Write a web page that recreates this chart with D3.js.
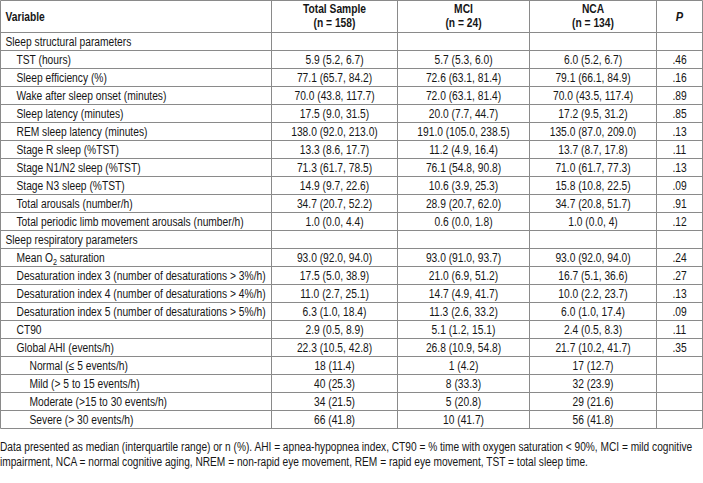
<!DOCTYPE html>
<html><head><meta charset="utf-8">
<script src="https://cdn.jsdelivr.net/npm/d3@7/dist/d3.min.js"></script>
<style>
html,body{margin:0;padding:0;background:#fff;}
svg{display:block;}
text{font-family:"Liberation Sans",Arial,sans-serif;fill:#161616;}
</style></head>
<body><svg id="chart" width="703" height="483"></svg>
<script>
// ---- data ----
const headers = ["Variable", "Total Sample|(n = 158)", "MCI|(n = 24)", "NCA|(n = 134)", "P"];
const variables = [
  "Sleep structural parameters","TST (hours)","Sleep efficiency (%)","Wake after sleep onset (minutes)",
  "Sleep latency (minutes)","REM sleep latency (minutes)","Stage R sleep (%TST)","Stage N1/N2 sleep (%TST)",
  "Stage N3 sleep (%TST)","Total arousals (number/h)","Total periodic limb movement arousals (number/h)",
  "Sleep respiratory parameters","Mean O_2 saturation","Desaturation index 3 (number of desaturations > 3%/h)",
  "Desaturation index 4 (number of desaturations > 4%/h)","Desaturation index 5 (number of desaturations > 5%/h)",
  "CT90","Global AHI (events/h)","Normal (≤ 5 events/h)","Mild (> 5 to 15 events/h)",
  "Moderate (>15 to 30 events/h)","Severe (> 30 events/h)"
];
const levels = [0,1,1,1,1,1,1,1,1,1,1,0,1,1,1,1,1,1,2,2,2,2];
const totalSample = ["","5.9 (5.2, 6.7)","77.1 (65.7, 84.2)","70.0 (43.8, 117.7)","17.5 (9.0, 31.5)",
  "138.0 (92.0, 213.0)","13.3 (8.6, 17.7)","71.3 (61.7, 78.5)","14.9 (9.7, 22.6)","34.7 (20.7, 52.2)",
  "1.0 (0.0, 4.4)","","93.0 (92.0, 94.0)","17.5 (5.0, 38.9)","11.0 (2.7, 25.1)","6.3 (1.0, 18.4)",
  "2.9 (0.5, 8.9)","22.3 (10.5, 42.8)","18 (11.4)","40 (25.3)","34 (21.5)","66 (41.8)"];
const mci = ["","5.7 (5.3, 6.0)","72.6 (63.1, 81.4)","72.0 (63.1, 81.4)","20.0 (7.7, 44.7)",
  "191.0 (105.0, 238.5)","11.2 (4.9, 16.4)","76.1 (54.8, 90.8)","10.6 (3.9, 25.3)","28.9 (20.7, 62.0)",
  "0.6 (0.0, 1.8)","","93.0 (91.0, 93.7)","21.0 (6.9, 51.2)","14.7 (4.9, 41.7)","11.3 (2.6, 33.2)",
  "5.1 (1.2, 15.1)","26.8 (10.9, 54.8)","1 (4.2)","8 (33.3)","5 (20.8)","10 (41.7)"];
const nca = ["","6.0 (5.2, 6.7)","79.1 (66.1, 84.9)","70.0 (43.5, 117.4)","17.2 (9.5, 31.2)",
  "135.0 (87.0, 209.0)","13.7 (8.7, 17.8)","71.0 (61.7, 77.3)","15.8 (10.8, 22.5)","34.7 (20.8, 51.7)",
  "1.0 (0.0, 4)","","93.0 (92.0, 94.0)","16.7 (5.1, 36.6)","10.0 (2.2, 23.7)","6.0 (1.0, 17.4)",
  "2.4 (0.5, 8.3)","21.7 (10.2, 41.7)","17 (12.7)","32 (23.9)","29 (21.6)","56 (41.8)"];
const pValues = ["",".46",".16",".89",".85",".13",".11",".13",".09",".91",".12","",
  ".24",".27",".13",".09",".11",".35","","","",""];
const footnote = [
  "Data presented as median (interquartile range) or n (%). AHI = apnea-hypopnea index, CT90 = % time with oxygen saturation < 90%, MCI = mild cognitive",
  "impairment, NCA = normal cognitive aging, NREM = non-rapid eye movement, REM = rapid eye movement, TST = total sleep time."
];

// ---- layout ----
const svg = d3.select("#chart");
const colEdges = [0.5, 271.5, 397.5, 529.5, 656.5, 702.5];
const headTop = 0.5, headBottom = 32.5, tableBottom = 428.5;
const y = d3.scaleBand().domain(d3.range(variables.length)).range([headBottom, tableBottom]);
const colX = d3.scaleOrdinal().domain(d3.range(5)).range(colEdges.slice(0,5));
const colW = i => colEdges[i+1] - colEdges[i];
const lineColor = "#8a8a8a";
const fs = 12.5;
const sx = 0.82; // condensed face

const g = svg.append("g");
const hLines = [headTop, headBottom].concat(d3.range(variables.length).map(i => y(i) + y.bandwidth()));
g.selectAll("line.h").data(hLines).join("line")
  .attr("x1", colEdges[0]).attr("x2", colEdges[5])
  .attr("y1", d => Math.round(d - 0.5) + 0.5).attr("y2", d => Math.round(d - 0.5) + 0.5)
  .attr("stroke", lineColor).attr("stroke-width", 1);
g.selectAll("line.v").data(colEdges).join("line")
  .attr("x1", d => d).attr("x2", d => d)
  .attr("y1", headTop).attr("y2", tableBottom)
  .attr("stroke", lineColor).attr("stroke-width", 1);

function label(parent, x, yy, anchor, scale) {
  return parent.append("text")
    .attr("transform", `translate(${x},${yy}) scale(${scale || sx},1)`)
    .attr("text-anchor", anchor || "start")
    .attr("font-size", fs);
}

// headers
headers.forEach((h, i) => {
  const parts = h.split("|");
  if (i === 0) {
    label(g, colX(0) + 5, 21).attr("font-weight","bold").text(parts[0]);
  } else if (i === 4) {
    label(g, colX(i) + colW(i)/2, 21, "middle").attr("font-weight","bold")
      .attr("font-style","italic").attr("font-size", fs + 1).text(parts[0]);
  } else {
    parts.forEach((p, k) => {
      label(g, colX(i) + colW(i)/2, 13 + k*14, "middle").attr("font-weight","bold").text(p);
    });
  }
});

// rows
const indent = [5, 16, 29];
const rows = g.selectAll("g.row").data(variables).join("g")
  .attr("transform", (d, i) => `translate(0,${y(i) + y.bandwidth()/2 + 4.5})`);
rows.each(function(v, i) {
  const r = d3.select(this);
  const t = label(r, colX(0) + indent[levels[i]], 0);
  if (v.includes("_")) {
    const [a, rest] = v.split("_");
    t.append("tspan").text(a);
    t.append("tspan").attr("font-size", fs*0.7).attr("dy", 3).text(rest[0]);
    t.append("tspan").attr("dy", -3).text(rest.slice(1));
  } else t.text(v);
  [totalSample, mci, nca, pValues].forEach((arr, c) => {
    label(r, colX(c+1) + colW(c+1)/2, 0, "middle").text(arr[i]);
  });
});

// footnote
footnote.forEach((d, i) => {
  label(svg, 0, 451 + i*15, "start", 0.813).text(d);
});
</script></body></html>
